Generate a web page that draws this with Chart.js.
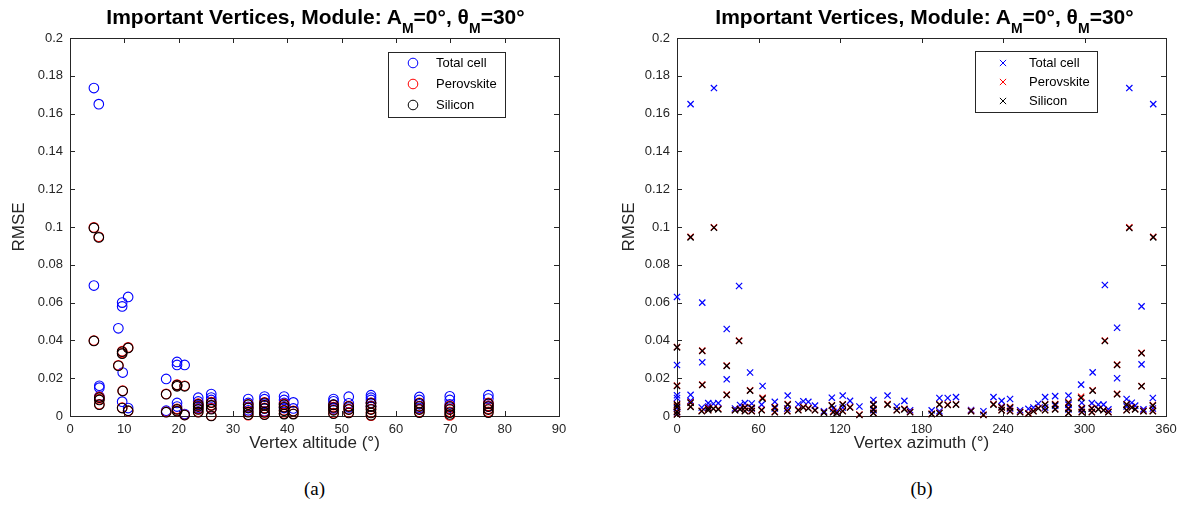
<!DOCTYPE html>
<html>
<head>
<meta charset="utf-8">
<script src="https://cdn.jsdelivr.net/npm/chart.js@4"></script>
<style>
  body { margin: 0; background: #fff; }
  #wrap { position: relative; width: 1189px; height: 511px; overflow: hidden; }
  canvas { position: absolute; top: 0; }
  .title, .caption { position: absolute; text-align: center; white-space: nowrap; }
  .title { top: 6px; font: bold 21px/21px "Liberation Sans", Arial, sans-serif; color: #000; }
  .title sub { font-size: 14px; vertical-align: -9px; line-height: 0; }
  .caption { top: 478px; font: 19px "Liberation Serif", "DejaVu Serif", serif; color: #000; }
</style>
</head>
<body>
<div id="wrap">
  <canvas id="altChart" width="594" height="470" style="left:0"></canvas>
  <canvas id="azChart" width="595" height="470" style="left:594px"></canvas>
  <div class="title" style="left:1px;width:629px">Important Vertices, Module: A<sub>M</sub>=0°, θ<sub>M</sub>=30°</div>
  <div class="title" style="left:610px;width:629px">Important Vertices, Module: A<sub>M</sub>=0°, θ<sub>M</sub>=30°</div>
  <div class="caption" style="left:0;width:629px">(a)</div>
  <div class="caption" style="left:607px;width:629px">(b)</div>
</div>
<script>
const seriesNames = ['Total cell', 'Perovskite', 'Silicon'];
const seriesColors = ['#0000ff', '#ff0000', '#000000'];

// RMSE per important vertex against vertex altitude (deg)
const altitudeDeg = [4.4, 4.4, 5.3, 5.4, 5.4, 5.4, 8.9, 9.6, 9.6, 9.7, 9.6, 10.7, 10.7, 17.7, 17.7,
  19.7, 19.7, 19.7, 19.7, 21.1, 21.1, 23.6, 23.6, 23.6, 23.6, 26, 26, 26, 26,
  32.8, 32.8, 32.8, 32.8, 35.8, 35.8, 35.8, 35.8, 35.8, 39.4, 39.4, 39.4, 39.4, 41.1, 41.1,
  48.5, 48.5, 48.5, 48.5, 51.3, 51.3, 51.3, 55.4, 55.4, 55.4, 55.4, 55.4,
  64.3, 64.3, 64.3, 64.3, 69.9, 69.9, 69.9, 69.9, 77, 77, 77, 77];
const altTotal = [0.1735, 0.069, 0.165, 0.016, 0.015, 0.0103, 0.0464, 0.060, 0.058, 0.023, 0.0076, 0.063, 0.0042, 0.0196, 0.0028,
  0.0286, 0.0270, 0.0069, 0.0050, 0.0270, 0.0010, 0.0097, 0.0077, 0.0058, 0.0042, 0.0116, 0.0098, 0.0085, 0.0040,
  0.0090, 0.0069, 0.0048, 0.0030, 0.0103, 0.0089, 0.0065, 0.0040, 0.0025, 0.0103, 0.0085, 0.0069, 0.0042, 0.0072, 0.0040,
  0.0090, 0.0078, 0.0060, 0.0040, 0.0102, 0.0067, 0.0045, 0.0110, 0.0097, 0.0085, 0.0070, 0.0050,
  0.0101, 0.0085, 0.0062, 0.0042, 0.0104, 0.0085, 0.0062, 0.0045, 0.0110, 0.0092, 0.0066, 0.0050];
const altPerovskite = [0.0998, 0.0399, 0.0948, 0.0101, 0.0089, 0.0062, 0.0268, 0.0343, 0.0333, 0.0134, 0.0044, 0.0363, 0.0026, 0.0117, 0.0022,
  0.0166, 0.0160, 0.0038, 0.0027, 0.0160, 0.0006, 0.0065, 0.0053, 0.0038, 0.0022, 0.0073, 0.0058, 0.0040, 0.0002,
  0.0062, 0.0044, 0.0023, 0.0004, 0.0072, 0.0058, 0.0043, 0.0022, 0.0009, 0.0064, 0.0049, 0.0031, 0.0013, 0.0027, 0.0012,
  0.0058, 0.0047, 0.0033, 0.0015, 0.0053, 0.0036, 0.0019, 0.0069, 0.0052, 0.0037, 0.0019, 0.0002,
  0.0070, 0.0053, 0.0037, 0.0021, 0.0054, 0.0038, 0.0022, 0.0003, 0.0069, 0.0054, 0.0038, 0.0022];
const altSilicon = [0.0995, 0.0397, 0.0945, 0.0097, 0.0085, 0.0060, 0.0266, 0.0340, 0.0330, 0.0132, 0.0042, 0.0360, 0.0028, 0.0115, 0.0020,
  0.0164, 0.0157, 0.0035, 0.0025, 0.0157, 0.0005, 0.0062, 0.0050, 0.0035, 0.0020, 0.0070, 0.0056, 0.0036, 0.0000,
  0.0060, 0.0042, 0.0020, 0.0007, 0.0070, 0.0056, 0.0040, 0.0019, 0.0007, 0.0060, 0.0046, 0.0028, 0.0010, 0.0025, 0.0010,
  0.0060, 0.0045, 0.0030, 0.0012, 0.0050, 0.0034, 0.0016, 0.0067, 0.0050, 0.0034, 0.0016, 0.0004,
  0.0067, 0.0050, 0.0034, 0.0018, 0.0050, 0.0034, 0.0018, 0.0008, 0.0065, 0.0050, 0.0034, 0.0018];

// RMSE per important vertex against vertex azimuth (deg)
const azimuthDeg = [0, 0, 0, 0, 0, 0, 10, 10, 10, 18.6, 18.6, 18.2, 23, 23, 27.2, 26.8, 30.4, 36.6, 36.6, 42.7,
  45.7, 46.4, 50, 50, 53.8, 55, 55, 63, 62.3, 72, 72, 81.5, 81.2, 89.3, 93, 96.7, 101.6, 108.2, 114, 115,
  117.6, 122, 122, 127.4, 134.3, 144.6, 144.6, 144.6, 155, 161.8, 167.4, 171.6, 187.5, 193.2, 193.2, 199.3, 205.4, 216.5, 225.6, 233,
  239, 239, 245.2, 245.2, 252.6, 258.7, 262.4, 266, 271, 271, 278.4, 278.4, 288.2, 288.2, 288.2, 297.5, 298, 298, 306, 305.4,
  305.4, 310.2, 315, 314, 317.6, 324, 324, 331, 331, 333, 334.8, 337.3, 342, 342, 343.4, 350.6, 350.3, 350.3];
const azTotal = [0.063, 0.027, 0.0110, 0.0095, 0.0042, 0.0020, 0.165, 0.0112, 0.0080, 0.060, 0.0284, 0.0045, 0.0068, 0.0050, 0.1735, 0.0065, 0.0068, 0.046, 0.0194, 0.0040,
  0.0688, 0.0058, 0.0068, 0.0045, 0.023, 0.0066, 0.0040, 0.0159, 0.0060, 0.0075, 0.0040, 0.0108, 0.0040, 0.0062, 0.0078, 0.0075, 0.0055, 0.0025, 0.0097, 0.0040,
  0.0025, 0.0108, 0.0045, 0.0080, 0.0050, 0.0085, 0.0060, 0.0030, 0.0108, 0.0050, 0.0080, 0.0030, 0.0030, 0.0095, 0.0025, 0.0095, 0.0100, 0.0032, 0.0025, 0.0100,
  0.0080, 0.0050, 0.0090, 0.0040, 0.0030, 0.0038, 0.0045, 0.0065, 0.0100, 0.0045, 0.0105, 0.0055, 0.0108, 0.0060, 0.0035, 0.0166, 0.0070, 0.0035, 0.0231, 0.0068,
  0.0040, 0.0060, 0.0693, 0.0060, 0.0035, 0.0467, 0.0200, 0.0090, 0.0050, 0.1735, 0.0070, 0.0055, 0.0580, 0.0273, 0.0035, 0.165, 0.0095, 0.0040];
const azPerovskite = [0.0365, 0.0161, 0.0062, 0.0051, 0.0025, 0.0010, 0.0948, 0.0072, 0.0050, 0.0346, 0.0166, 0.0028, 0.0043, 0.0032, 0.0999, 0.0040, 0.0038, 0.0267, 0.0113, 0.0032,
  0.0399, 0.0038, 0.0047, 0.0028, 0.0136, 0.0044, 0.0027, 0.0097, 0.0033, 0.0048, 0.0022, 0.0063, 0.0027, 0.0033, 0.0047, 0.0042, 0.0032, 0.0020, 0.0057, 0.0023,
  0.0017, 0.0062, 0.0028, 0.0047, 0.0008, 0.0062, 0.0038, 0.0017, 0.0063, 0.0032, 0.0038, 0.0022, 0.0012, 0.0062, 0.0017, 0.0060, 0.0062, 0.0027, 0.0007, 0.0063,
  0.0047, 0.0032, 0.0048, 0.0027, 0.0022, 0.0014, 0.0027, 0.0042, 0.0062, 0.0032, 0.0063, 0.0037, 0.0072, 0.0042, 0.0017, 0.0102, 0.0042, 0.0022, 0.0136, 0.0042,
  0.0022, 0.0037, 0.0399, 0.0032, 0.0022, 0.0272, 0.0117, 0.0062, 0.0032, 0.0998, 0.0047, 0.0037, 0.0334, 0.0159, 0.0027, 0.0948, 0.0058, 0.0027];
const azSilicon = [0.0363, 0.0159, 0.0060, 0.0048, 0.0022, 0.0008, 0.0945, 0.0070, 0.0048, 0.0344, 0.0164, 0.0025, 0.0040, 0.0030, 0.0996, 0.0038, 0.0035, 0.0265, 0.0111, 0.0030,
  0.0397, 0.0035, 0.0045, 0.0025, 0.0134, 0.0042, 0.0025, 0.0092, 0.0030, 0.0045, 0.0020, 0.0060, 0.0025, 0.0030, 0.0045, 0.0040, 0.0030, 0.0018, 0.0055, 0.0020,
  0.0015, 0.0060, 0.0025, 0.0045, 0.0005, 0.0060, 0.0035, 0.0015, 0.0060, 0.0030, 0.0035, 0.0020, 0.0010, 0.0060, 0.0015, 0.0058, 0.0060, 0.0025, 0.0005, 0.0060,
  0.0045, 0.0030, 0.0045, 0.0025, 0.0020, 0.0012, 0.0025, 0.0040, 0.0060, 0.0030, 0.0060, 0.0035, 0.0070, 0.0040, 0.0015, 0.0095, 0.0040, 0.0020, 0.0134, 0.0040,
  0.0020, 0.0035, 0.0397, 0.0030, 0.0020, 0.0270, 0.0115, 0.0060, 0.0030, 0.0995, 0.0045, 0.0035, 0.0332, 0.0157, 0.0025, 0.0945, 0.0055, 0.0025];

const altTicks = [0, 10, 20, 30, 40, 50, 60, 70, 80, 90];
const azTicks = [0, 60, 120, 180, 240, 300, 360];
const axisColor = '#262626';
const tickFont = { family: '"Liberation Sans", Arial, sans-serif', size: 13 };
const labelFont = { family: '"Liberation Sans", Arial, sans-serif', size: 17 };

const toPoints = (xs, ys) => xs.map((x, i) => ({ x, y: ys[i] }));

// box round the plot area with short ticks pointing inwards on all four sides
const axesFrame = {
  id: 'axesFrame',
  beforeDatasetsDraw(chart) {
    const { ctx, chartArea: a, scales: { x, y } } = chart;
    const len = 5;
    ctx.save();
    ctx.strokeStyle = axisColor;
    ctx.lineWidth = 1;
    ctx.beginPath();
    x.ticks.forEach((t) => {
      const px = Math.round(x.getPixelForValue(t.value)) + 0.5;
      ctx.moveTo(px, a.bottom); ctx.lineTo(px, a.bottom - len);
      ctx.moveTo(px, a.top); ctx.lineTo(px, a.top + len);
    });
    y.ticks.forEach((t) => {
      const py = Math.round(y.getPixelForValue(t.value)) + 0.5;
      ctx.moveTo(a.left, py); ctx.lineTo(a.left + len, py);
      ctx.moveTo(a.right, py); ctx.lineTo(a.right - len, py);
    });
    ctx.stroke();
    ctx.strokeRect(a.left + 0.5, a.top + 0.5, a.right - a.left, a.bottom - a.top);
    ctx.restore();
  },
};

// legend drawn inside the axes, boxed
const boxLegend = {
  id: 'boxLegend',
  afterDatasetsDraw(chart, args, opts) {
    const { ctx } = chart;
    ctx.save();
    ctx.fillStyle = '#fff';
    ctx.fillRect(opts.left, opts.top, opts.width, opts.height);
    ctx.strokeStyle = axisColor;
    ctx.lineWidth = 1;
    ctx.strokeRect(opts.left + 0.5, opts.top + 0.5, opts.width, opts.height);
    ctx.font = '13px "Liberation Sans", Arial, sans-serif';
    ctx.textBaseline = 'middle';
    chart.data.datasets.forEach((ds, i) => {
      const yy = opts.top + opts.firstRow + i * opts.rowGap;
      ctx.strokeStyle = ds.borderColor;
      ctx.fillStyle = 'rgba(0,0,0,0)';
      ctx.lineWidth = 1;
      Chart.helpers.drawPoint(ctx, { pointStyle: ds.pointStyle, radius: ds.pointRadius, borderWidth: 1 }, opts.left + opts.markerX, yy);
      ctx.fillStyle = '#000';
      ctx.fillText(ds.label, opts.left + opts.textX, yy);
    });
    ctx.restore();
  },
};

function buildDatasets(xs, total, perov, silicon, style, radius, lineW) {
  return [total, perov, silicon].map((ys, i) => ({
    label: seriesNames[i],
    data: toPoints(xs, ys),
    pointStyle: style,
    pointRadius: radius,
    pointHoverRadius: radius,
    borderColor: seriesColors[i],
    backgroundColor: 'rgba(0,0,0,0)',
    pointBorderWidth: lineW,
    showLine: false,
    clip: false,
    order: 3 - i,
  }));
}

function makeChart(id, datasets, xOpts, yLeft, yTitlePad, padRight, legendOpts) {
  return new Chart(document.getElementById(id), {
    type: 'scatter',
    data: { datasets },
    plugins: [axesFrame, boxLegend],
    options: {
      responsive: false,
      animation: false,
      events: [],
      layout: { padding: { top: 38, right: padRight, left: 0, bottom: 0 } },
      plugins: { legend: { display: false }, tooltip: { enabled: false }, boxLegend: legendOpts },
      scales: {
        x: {
          type: 'linear',
          min: xOpts.ticks[0],
          max: xOpts.ticks[xOpts.ticks.length - 1],
          afterBuildTicks: (scale) => { scale.ticks = xOpts.ticks.map((v) => ({ value: v })); },
          afterFit: (scale) => { scale.height = 54; },
          grid: { display: false, drawTicks: false },
          border: { display: false },
          ticks: { color: axisColor, font: tickFont, padding: 6, maxRotation: 0, autoSkip: false },
          title: { display: true, text: xOpts.label, color: axisColor, font: labelFont, padding: { top: 0, bottom: 16 } },
        },
        y: {
          type: 'linear',
          min: 0,
          max: 0.2,
          ticks: {
            stepSize: 0.02, color: axisColor, font: tickFont, padding: 7,
            callback: (v) => String(+v.toFixed(2)),
          },
          afterFit: (scale) => { scale.width = yLeft; },
          grid: { display: false, drawTicks: false },
          border: { display: false },
          title: { display: true, text: 'RMSE', color: axisColor, font: labelFont, padding: { top: yTitlePad, bottom: 0 } },
        },
      },
    },
  });
}

makeChart('altChart',
  buildDatasets(altitudeDeg, altTotal, altPerovskite, altSilicon, 'circle', 4.8, 1.1),
  { ticks: altTicks, label: 'Vertex altitude (°)' }, 70, 9, 35,
  { left: 388, top: 52, width: 117, height: 65, firstRow: 11, rowGap: 21, markerX: 25, textX: 48 });

makeChart('azChart',
  buildDatasets(azimuthDeg, azTotal, azPerovskite, azSilicon, 'crossRot', 4.4, 1.2),
  { ticks: azTicks, label: 'Vertex azimuth (°)' }, 83, 25, 23,
  { left: 381, top: 51, width: 122, height: 61, firstRow: 12, rowGap: 19, markerX: 28, textX: 54 });
</script>
</body>
</html>
